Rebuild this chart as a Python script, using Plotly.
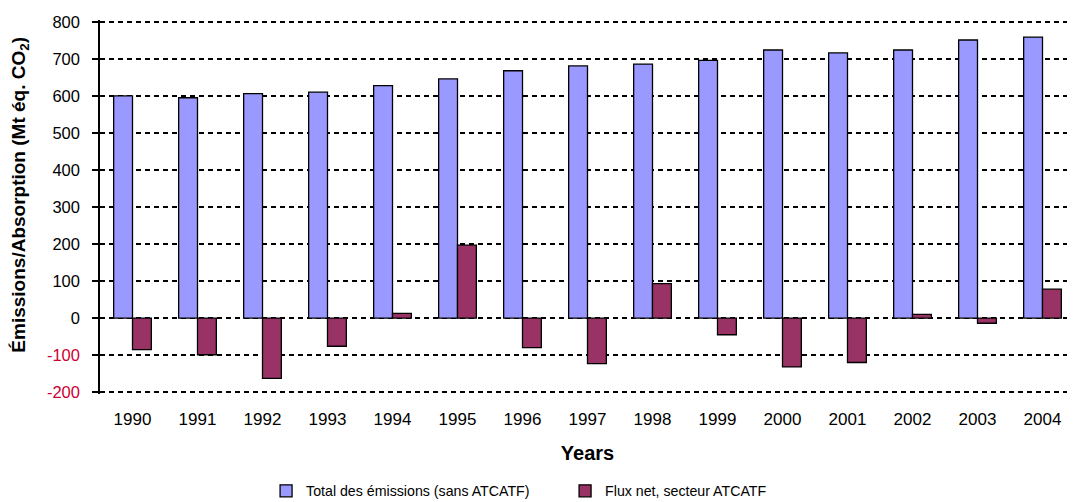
import plotly.graph_objects as go

years = ["1990", "1991", "1992", "1993", "1994", "1995", "1996", "1997",
         "1998", "1999", "2000", "2001", "2002", "2003", "2004"]
total_emissions = [600, 595, 606, 610, 628, 646, 668, 681, 686, 696, 724, 716, 724, 751, 759]
flux_net = [-85, -99, -163, -76, 13, 197, -80, -123, 93, -45, -132, -120, 10, -14, 78]

tick_vals = [-200, -100, 0, 100, 200, 300, 400, 500, 600, 700, 800]
tick_text = [f"<span style='color:#CC0033'>{v}</span>" if v < 0 else str(v) for v in tick_vals]

font_family = "Liberation Sans, Arial, sans-serif"

fig = go.Figure()
fig.add_trace(go.Bar(
    x=years, y=total_emissions, name="Total des émissions (sans ATCATF)",
    marker=dict(color="#9999FF", line=dict(color="#000000", width=1.3)),
))
fig.add_trace(go.Bar(
    x=years, y=flux_net, name="Flux net, secteur ATCATF",
    marker=dict(color="#993366", line=dict(color="#000000", width=1.3)),
))

# page body has an 8px margin, so the figure is offset by 8px
fig.update_layout(
    width=1067, height=494,
    margin=dict(l=92, r=0, t=12, b=108),
    paper_bgcolor="white", plot_bgcolor="white",
    barmode="group", bargap=0.42, bargroupgap=0,
    font=dict(family=font_family, size=16, color="#000000"),
    showlegend=True,
    legend=dict(orientation="h", x=0.477, xanchor="center",
                yref="container", y=0.022, yanchor="middle",
                font=dict(size=14.2), traceorder="normal", itemwidth=30,
                entrywidth=254, entrywidthmode="pixels"),
    xaxis=dict(
        type="category", showgrid=False, showline=False, ticks="", zeroline=False,
        automargin=False, ticklabelstandoff=13,
        tickfont=dict(size=17),
        title=dict(text="<b>Years</b>", font=dict(size=20), standoff=17),
    ),
    yaxis=dict(
        range=[-205, 805], tickvals=tick_vals, ticktext=tick_text,
        showgrid=True, gridcolor="#000000", griddash="5px,4px", gridwidth=1.5,
        zeroline=False, showline=True, linecolor="#000000", linewidth=1.5,
        ticks="outside", ticklen=6, tickcolor="#000000", tickwidth=1.5,
        automargin=False, ticklabelstandoff=9,
        tickfont=dict(size=16.5),
    ),
    annotations=[dict(
        text="<b>Émissions/Absorption (Mt éq. CO<sub>2</sub>)</b>",
        textangle=-90, xref="paper", yref="paper",
        x=(12 - 92) / 975, y=0.533, xanchor="center", yanchor="middle",
        showarrow=False, font=dict(size=19),
    )],
)

fig.write_html("out.html")
